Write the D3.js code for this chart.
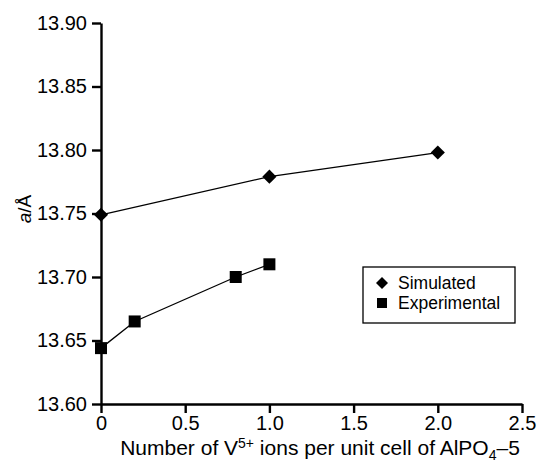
<!DOCTYPE html>
<html>
<head>
<meta charset="utf-8">
<script src="https://cdn.jsdelivr.net/npm/d3@7"></script>
<style>
  body { margin: 0; background: #fff; }
  svg { font-family: "Liberation Sans", Arial, sans-serif; }
</style>
</head>
<body>
<svg id="chart" width="541" height="466"></svg>
<script>
// data
var simX = [0, 1, 2];
var simY = [13.749, 13.779, 13.798];
var expX = [0, 0.2, 0.8, 1.0];
var expY = [13.644, 13.665, 13.700, 13.710];
var xTicks = [0, 0.5, 1.0, 1.5, 2.0, 2.5];
var yTicks = [13.60, 13.65, 13.70, 13.75, 13.80, 13.85, 13.90];
var seriesNames = ["Simulated", "Experimental"];

var svg = d3.select("#chart");
var x = d3.scaleLinear().domain([0, 2.5]).range([101, 522]);
var y = d3.scaleLinear().domain([13.60, 13.90]).range([404, 23]);

// axes
var xAxis = svg.append("g").attr("transform", "translate(0," + y(13.60) + ")")
  .call(d3.axisBottom(x).tickValues(xTicks).tickSize(9).tickSizeOuter(0)
    .tickFormat(function(d){ return d === 0 ? "0" : d3.format(".1f")(d); }));
var yAxis = svg.append("g").attr("transform", "translate(" + x(0) + ",0)")
  .call(d3.axisLeft(y).tickValues(yTicks).tickSize(9).tickSizeOuter(0).tickFormat(d3.format(".2f")));

[xAxis, yAxis].forEach(function(a){
  a.select(".domain").attr("stroke", "#000").attr("stroke-width", 2.4);
  a.selectAll(".tick line").attr("stroke", "#000").attr("stroke-width", 2.4);
  a.selectAll(".tick text").attr("fill", "#000").style("font-size", "20px");
});
xAxis.selectAll(".tick text").attr("y", 12);
yAxis.selectAll(".tick text").attr("x", -14);

// axis titles
svg.append("text").attr("x", 320).attr("y", 455).attr("text-anchor", "middle")
  .style("font-size", "21px")
  .html('Number of V<tspan dy="-7" font-size="14px">5+</tspan><tspan dy="7"> ions per unit cell of AlPO</tspan><tspan dy="5" font-size="14px">4</tspan><tspan dy="-5">–5</tspan>');
svg.append("text").attr("transform", "translate(31,209) rotate(-90)")
  .attr("text-anchor", "middle").style("font-size", "19px")
  .html('<tspan font-style="italic">a</tspan>/Å');

var line = d3.line().x(function(d){ return x(d[0]); }).y(function(d){ return y(d[1]); });
var sim = simX.map(function(v, i){ return [v, simY[i]]; });
var exp = expX.map(function(v, i){ return [v, expY[i]]; });

svg.append("path").datum(sim).attr("d", line).attr("fill", "none").attr("stroke", "#000").attr("stroke-width", 1.3);
svg.append("path").datum(exp).attr("d", line).attr("fill", "none").attr("stroke", "#000").attr("stroke-width", 1.3);

svg.selectAll(".sim").data(sim).enter().append("path")
  .attr("transform", function(d){ return "translate(" + x(d[0]) + "," + y(d[1]) + ") rotate(45)"; })
  .attr("d", d3.symbol().type(d3.symbolSquare).size(100)).attr("fill", "#000");
svg.selectAll(".exp").data(exp).enter().append("rect")
  .attr("x", function(d){ return x(d[0]) - 6; }).attr("y", function(d){ return y(d[1]) - 6; })
  .attr("width", 12).attr("height", 12).attr("fill", "#000");

// legend
var lg = svg.append("g");
lg.append("rect").attr("x", 363).attr("y", 267).attr("width", 152).attr("height", 56)
  .attr("fill", "#fff").attr("stroke", "#000").attr("stroke-width", 1.3);
lg.append("path").attr("transform", "translate(382,283) rotate(45)")
  .attr("d", d3.symbol().type(d3.symbolSquare).size(72)).attr("fill", "#000");
lg.append("rect").attr("x", 377).attr("y", 298).attr("width", 10).attr("height", 10).attr("fill", "#000");
lg.selectAll("text.lbl").data(seriesNames).enter().append("text")
  .attr("x", 398).attr("y", function(d, i){ return 289 + i * 20; })
  .style("font-size", "17.5px").text(function(d){ return d; });
</script>
</body>
</html>
